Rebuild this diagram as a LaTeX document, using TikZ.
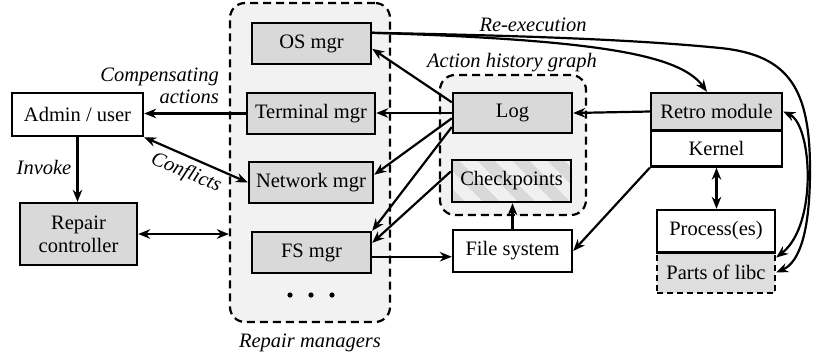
\documentclass[tikz,border=0pt]{standalone}
\usepackage{fontspec}
\setmainfont{Liberation Serif}
\newfontfamily\tnr{Liberation Serif}
\usetikzlibrary{arrows.meta,calc}
\begin{document}
\begin{tikzpicture}[x=1pt,y=1pt,
  every node/.style={font=\tnr\fontsize{20.5}{23}\selectfont},
  box/.style={draw,line width=2.4pt,inner sep=0pt,align=center},
  gbox/.style={box,fill=black!15},
  wbox/.style={box,fill=white},
  grp/.style={draw,line width=2.2pt,dash pattern=on 8pt off 5pt,rounded corners=15pt,fill=black!5,inner sep=0pt},
  lbl/.style={font=\tnr\fontsize{20.5}{22}\itshape\selectfont,inner sep=0pt},
  arr/.style={line width=2.2pt,-{Stealth[length=12pt,width=9.5pt]}},
  darr/.style={line width=2.2pt,{Stealth[length=12pt,width=9.5pt]}-{Stealth[length=12pt,width=9.5pt]}}
]
\useasboundingbox (0,0) rectangle (813,-360);

% groups
\node[grp,minimum width=160pt,minimum height=319pt] (rm) at (310,-162.5) {};
\node[grp,minimum width=146pt,minimum height=140pt] (ahg) at (513,-145) {};

% left
\node[wbox,minimum width=131pt,minimum height=43pt] (admin) at (77.5,-114.5) {Admin / user};
\node[gbox,minimum width=117pt,minimum height=62pt] (ctrl) at (78.5,-234) {Repair\\controller};

% managers
\node[gbox,minimum width=119pt,minimum height=41pt] (osm) at (311.5,-43.5) {OS mgr};
\node[gbox,minimum width=128pt,minimum height=41pt] (term) at (311,-113.5) {Terminal mgr};
\node[gbox,minimum width=124pt,minimum height=41pt] (net) at (311,-182.5) {Network mgr};
\node[gbox,minimum width=119pt,minimum height=41pt] (fsm) at (311.5,-252.5) {FS mgr};
\fill (290,-295) circle (2.6pt) (311,-295) circle (2.6pt) (332,-295) circle (2.6pt);

% action history
\node[gbox,minimum width=119pt,minimum height=40pt] (log) at (512.5,-113) {Log};
\node[box,minimum width=119pt,minimum height=42pt,fill=black!6,
  path picture={
    \foreach \i in {-140,-105,...,140}{
      \fill[black!15] ([xshift=\i pt]path picture bounding box.north) -- ++(17,0) -- ++(45,-45) -- ++(-17,0) -- cycle;
    }
  }] (ckpt) at (511.5,-181) {Checkpoints};
\node[wbox,minimum width=119pt,minimum height=42pt] (fs) at (512.5,-251) {File system};

% right
\node[gbox,minimum width=131pt,minimum height=37pt] (retro) at (716.5,-111.5) {Retro module};
\node[wbox,minimum width=131pt,minimum height=36pt] (kernel) at (716.5,-148.5) {Kernel};
\node[wbox,minimum width=118pt,minimum height=42pt] (proc) at (716,-231) {Process(es)};
\node[box,fill=black!13,dash pattern=on 6pt off 4pt,minimum width=118pt,minimum height=41pt] (libc) at (716,-272.5) {Parts of libc};
\draw[line width=2.4pt] (proc.south west) -- (proc.south east);

% labels
\node[lbl,align=right,anchor=east] (comp) at (219,-86) {Compensating\\actions};
\node[lbl] (inv) at (44,-167) {Invoke};
\node[lbl,rotate=-23] (conf) at (186,-173) {Conflicts};
\node[lbl] (rml) at (310,-343) {Repair managers};
\node[lbl] (ahgl) at (512,-63) {Action history graph};
\node[lbl] (rex) at (533,-25) {Re-execution};

% connectors
\draw[arr] (term.west) -- (term.west -| admin.east);
\draw[darr] (admin.south east) -- (net.west);
\draw[arr] (admin.south) -- (admin.south |- ctrl.north);
\draw[darr] (ctrl.east) -- (ctrl.east -| rm.west);
\draw[arr] (log.170) -- (osm.-5);
\draw[arr] (log.west) -- (log.west -| term.east);
\draw[arr] (log.185) -- (net.7);
\draw[arr] (log.193) -- (fsm.north east);
\draw[arr] (ckpt.171) -- (fsm.9);
\draw[arr] (fsm.-4) -- (fsm.-4 -| fs.west);
\draw[arr] (fs.north) -- (fs.north |- ckpt.south);
\draw[arr] (retro.west) -- (log.east);
\draw[arr] (kernel.south west) -- (fs.east);
\draw[darr] (kernel.south) -- (kernel.south |- proc.north);
\draw[arr] (osm.10) .. controls (600,-40) and (680,-55) .. ([xshift=-9.5pt]retro.north);
\draw[arr] (osm.10) .. controls (550,-36) and (650,-41) .. (720,-48)
  .. controls (790,-55) and (810,-90) .. (810,-170)
  .. controls (810,-230) and (800,-262) .. (libc.east);
\draw[darr] (retro.east) .. controls (812,-125) and (818,-225) .. (libc.14);
\end{tikzpicture}
\end{document}
